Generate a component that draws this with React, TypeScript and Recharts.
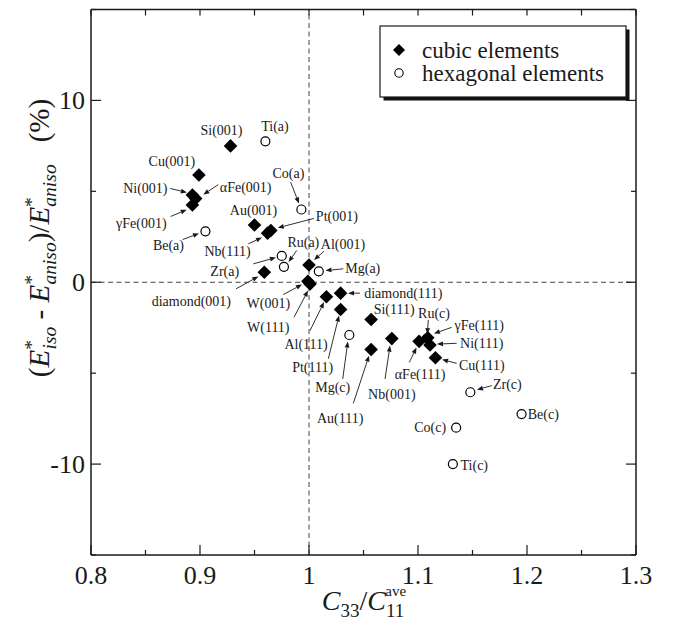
import React from "react";
import { ScatterChart, Scatter, XAxis, YAxis, ReferenceLine } from "recharts";

// cubic elements (filled diamonds)
const cubicNames = [
  "Si(001)", "Cu(001)", "Ni(001)", "αFe(001)", "γFe(001)", "Au(001)", "Pt(001)", "Nb(111)",
  "Al(001)", "diamond(001)", "W(001)", "W(111)", "Al(111)", "diamond(111)", "Pt(111)",
  "Si(111)", "Au(111)", "Nb(001)", "αFe(111)", "γFe(111)", "Ni(111)", "Cu(111)",
];
const cubicX = [
  0.928, 0.899, 0.893, 0.896, 0.893, 0.95, 0.965, 0.962,
  1.0, 0.959, 0.999, 1.001, 1.016, 1.029, 1.029,
  1.057, 1.057, 1.076, 1.101, 1.109, 1.111, 1.116,
];
const cubicY = [
  7.5, 5.9, 4.8, 4.6, 4.25, 3.15, 2.85, 2.7,
  0.95, 0.55, 0.05, -0.1, -0.8, -0.6, -1.5,
  -2.05, -3.7, -3.1, -3.25, -3.05, -3.45, -4.15,
];

// hexagonal elements (open circles)
const hexNames = [
  "Ti(a)", "Co(a)", "Be(a)", "Zr(a)", "Ru(a)", "Mg(a)",
  "Mg(c)", "Ru(c)", "Zr(c)", "Co(c)", "Be(c)", "Ti(c)",
];
const hexX = [0.96, 0.993, 0.905, 0.975, 0.977, 1.009, 1.037, 1.108, 1.148, 1.135, 1.195, 1.132];
const hexY = [7.75, 4.0, 2.8, 1.45, 0.85, 0.6, -2.9, -3.1, -6.05, -8.0, -7.25, -10.0];

const xTicks = [0.8, 0.85, 0.9, 0.95, 1.0, 1.05, 1.1, 1.15, 1.2, 1.25, 1.3];
const yTicks = [-15, -10, -5, 0, 5, 10, 15];

// label placement relative to the marker: [textDx, textDy, arrowTailDx, arrowTailDy, arrowHeadDx, arrowHeadDy]
const labelPlace: Record<string, number[]> = {
  "Si(001)": [-9, -15],
  "Cu(001)": [-27, -13],
  "Ni(001)": [-47, -6.5, -22, -6.5, -5.5, -2.5],
  "αFe(001)": [50, -11, 22.7, -14, 7.7, -4],
  "γFe(001)": [-51, 18.5, -21.7, 11.5, -5.7, 4.8],
  "Au(001)": [-1, -14.5],
  "Pt(001)": [66, -14, 43, -12, 7, -2.6],
  "Nb(111)": [-40, 18, -19.3, 10.7, -5.6, 4.4],
  "Al(001)": [34, -20, 15, -13.7, 5, -5],
  "diamond(001)": [-73, 29, -28.3, 16.6, -6, 4.3],
  "W(001)": [-39.6, 22.5, -24.6, 13.2, -5.9, 3.2],
  "W(111)": [-41.8, 43.2, -16.1, 33.2, -2.1, 6.5],
  "Al(111)": [-20.4, 47.8, -16.4, 33.8, -2.4, 5.3],
  "diamond(111)": [62.7, 0, 19.4, 0, 7.4, 0],
  "Pt(111)": [-28, 57.7, -12.3, 49.3, -1.6, 6],
  "Si(111)": [23, -9.6],
  "Au(111)": [-31, 69, -17.8, 53.8, -2.1, 6.1],
  "Nb(001)": [0, 56, -6.8, 40.3, -1.8, 7],
  "αFe(111)": [1, 33.5, -9.8, 21, -2.6, 6.2],
  "γFe(111)": [51.5, -12, 23.9, -10.4, 6.2, -4.1],
  "Ni(111)": [51.7, -1.7, 26.7, -1.7, 7, -0.9],
  "Cu(111)": [46.3, 7.9, 21.3, 5.6, 6.6, 1.9],
  "Ti(a)": [9.6, -15],
  "Co(a)": [-13, -36, -10.7, -27.3, -2.4, -6],
  "Be(a)": [-37, 14, -22.8, 8.2, -6.5, 2.2],
  "Zr(a)": [-57, 16, -28.5, 8, -5.8, 1.6],
  "Ru(a)": [19.4, -24.6, 12.8, -16.3, 4.6, -4.8],
  "Mg(a)": [44, -2.5, 24.5, -2.5, 6.7, -0.8],
  "Mg(c)": [-16.6, 52.3, -6.6, 44, -1.5, 6.6],
  "Ru(c)": [7.3, -25.3, 1.6, -18.7, 0.6, -4.5],
  "Zr(c)": [37, -7.6, 21.4, -6.6, 6.7, -2.6],
  "Co(c)": [-26, 0],
  "Be(c)": [21.7, 0],
  "Ti(c)": [21.4, 1],
};

const serif = "'Liberation Serif', 'Times New Roman', serif";
const ink = "#1a1a1a";

const Arrow = ({ x1, y1, x2, y2 }: { x1: number; y1: number; x2: number; y2: number }) => {
  const a = Math.atan2(y2 - y1, x2 - x1);
  const L = 6;
  const W = 2.4;
  const bx = x2 - L * Math.cos(a);
  const by = y2 - L * Math.sin(a);
  const px = -Math.sin(a) * W;
  const py = Math.cos(a) * W;
  return (
    <g>
      <line x1={x1} y1={y1} x2={bx} y2={by} stroke={ink} strokeWidth={0.9} />
      <polygon points={`${x2},${y2} ${bx + px},${by + py} ${bx - px},${by - py}`} fill={ink} />
    </g>
  );
};

const PointLabel = ({ cx, cy, name }: { cx: number; cy: number; name: string }) => {
  const p = labelPlace[name];
  if (!p) return null;
  return (
    <g>
      {p.length > 2 && <Arrow x1={cx + p[2]} y1={cy + p[3]} x2={cx + p[4]} y2={cy + p[5]} />}
      <text x={cx + p[0]} y={cy + p[1]} textAnchor="middle" dominantBaseline="central" fontFamily={serif} fontSize={14} fill={ink}>
        {name}
      </text>
    </g>
  );
};

const Diamond = (props: any) => {
  const { cx, cy, payload } = props;
  const r = 6.8;
  return (
    <g>
      <polygon points={`${cx},${cy - r} ${cx + r},${cy} ${cx},${cy + r} ${cx - r},${cy}`} fill="#000" />
      <PointLabel cx={cx} cy={cy} name={payload.name} />
    </g>
  );
};

const Ring = (props: any) => {
  const { cx, cy, payload } = props;
  return (
    <g>
      <circle cx={cx} cy={cy} r={4.5} fill="#fff" stroke="#000" strokeWidth={1.2} />
      <PointLabel cx={cx} cy={cy} name={payload.name} />
    </g>
  );
};

const isMajorX = (v: number) => Math.round(v * 100) % 10 === 0;
const isMajorY = (v: number) => Math.round(v) % 10 === 0 && Math.abs(v) < 15;

const BottomTick = (p: any) => {
  const v = p.payload.value;
  const major = isMajorX(v);
  return (
    <g>
      <line x1={p.x} y1={p.y} x2={p.x} y2={p.y - (major ? 10 : 5)} stroke={ink} strokeWidth={1.2} />
      {major && (
        <text x={p.x} y={p.y + 20} textAnchor="middle" dominantBaseline="central" fontFamily={serif} fontSize={26} fill={ink}>
          {String(v)}
        </text>
      )}
    </g>
  );
};

const TopTick = (p: any) => (
  <line x1={p.x} y1={p.y} x2={p.x} y2={p.y + 6} stroke={ink} strokeWidth={1.2} />
);

const LeftTick = (p: any) => {
  const v = p.payload.value;
  const major = isMajorY(v);
  return (
    <g>
      <line x1={p.x} y1={p.y} x2={p.x + (major ? 10 : 5)} y2={p.y} stroke={ink} strokeWidth={1.2} />
      {major && (
        <text x={p.x - 6} y={p.y} textAnchor="end" dominantBaseline="central" fontFamily={serif} fontSize={26} fill={ink}>
          {String(v)}
        </text>
      )}
    </g>
  );
};

const RightTick = (p: any) => {
  const major = isMajorY(p.payload.value);
  return <line x1={p.x} y1={p.y} x2={p.x - (major ? 10 : 5)} y2={p.y} stroke={ink} strokeWidth={1.2} />;
};

const axisLine = { stroke: ink, strokeWidth: 1.5 };

export default function App() {
  const cubic = cubicNames.map((name, i) => ({ name, x: cubicX[i], y: cubicY[i] }));
  const hex = hexNames.map((name, i) => ({ name, x: hexX[i], y: hexY[i] }));

  return (
    <div style={{ position: "absolute", left: 0, top: 0, width: 673, height: 621, background: "#fff" }}>
      <ScatterChart width={673} height={621} margin={{ top: 8.5, right: 0, bottom: 0, left: 0 }}>
        <XAxis xAxisId="b" type="number" dataKey="x" domain={[0.8, 1.3]} ticks={xTicks} interval={0}
          height={66} tickSize={0} tickMargin={0} tickLine={false} axisLine={axisLine} tick={BottomTick} allowDataOverflow />
        <XAxis xAxisId="t" orientation="top" type="number" dataKey="x" domain={[0.8, 1.3]} ticks={xTicks} interval={0}
          height={1} tickSize={0} tickMargin={0} tickLine={false} axisLine={axisLine} tick={TopTick} allowDataOverflow />
        <YAxis yAxisId="l" type="number" dataKey="y" domain={[-15, 15]} ticks={yTicks} interval={0}
          width={91} tickSize={0} tickMargin={0} tickLine={false} axisLine={axisLine} tick={LeftTick} allowDataOverflow />
        <YAxis yAxisId="r" orientation="right" type="number" dataKey="y" domain={[-15, 15]} ticks={yTicks} interval={0}
          width={37} tickSize={0} tickMargin={0} tickLine={false} axisLine={axisLine} tick={RightTick} allowDataOverflow />
        <ReferenceLine xAxisId="b" yAxisId="l" x={1} stroke="#444" strokeWidth={1} strokeDasharray="5 3.5" />
        <ReferenceLine xAxisId="b" yAxisId="l" y={0} stroke="#444" strokeWidth={1} strokeDasharray="5 3.5" />
        <Scatter xAxisId="b" yAxisId="l" data={hex} shape={Ring} isAnimationActive={false} />
        <Scatter xAxisId="b" yAxisId="l" data={cubic} shape={Diamond} isAnimationActive={false} />
      </ScatterChart>

      <svg width={673} height={621} style={{ position: "absolute", left: 0, top: 0, pointerEvents: "none" }}>
        {/* legend box with drop shadow */}
        <rect x={383.5} y={29.5} width={246} height={71} fill="#111" />
        <rect x={380} y={26} width={246} height={71} fill="#fff" stroke={ink} strokeWidth={1.2} />
        <polygon points="399,44 405,50 399,56 393,50" fill="#000" />
        <circle cx={399} cy={73} r={4.2} fill="#fff" stroke="#000" strokeWidth={1.1} />
        <text x={422} y={50} dominantBaseline="central" fontFamily={serif} fontSize={23} fill={ink}>cubic elements</text>
        <text x={422} y={73} dominantBaseline="central" fontFamily={serif} fontSize={23} fill={ink}>hexagonal elements</text>

        {/* x axis title */}
        <text x={364} y={610} textAnchor="middle" fontFamily={serif} fontSize={28} fill={ink}>
          <tspan fontStyle="italic">C</tspan>
          <tspan fontSize={19} dy={7}>33</tspan>
          <tspan dy={-7}>/</tspan>
          <tspan fontStyle="italic">C</tspan>
          <tspan fontSize={19} dy={7}>11</tspan>
          <tspan fontSize={15} dx={-19} dy={-21}>ave</tspan>
        </text>

        {/* y axis title */}
        <text transform="translate(49,238) rotate(-90)" textAnchor="middle" fontFamily={serif} fontSize={29} fill={ink}>
          <tspan>(</tspan>
          <tspan fontStyle="italic">E</tspan>
          <tspan fontSize={19.5} dy={-11}>*</tspan>
          <tspan fontSize={19.5} fontStyle="italic" dx={-9.5} dy={18}>iso</tspan>
          <tspan dy={-7}> - </tspan>
          <tspan fontStyle="italic">E</tspan>
          <tspan fontSize={19.5} dy={-11}>*</tspan>
          <tspan fontSize={19.5} fontStyle="italic" dx={-9.5} dy={18}>aniso</tspan>
          <tspan dy={-7}>)/</tspan>
          <tspan fontStyle="italic">E</tspan>
          <tspan fontSize={19.5} dy={-11}>*</tspan>
          <tspan fontSize={19.5} fontStyle="italic" dx={-9.5} dy={18}>aniso</tspan>
          <tspan dy={-7} dx={22}>(%)</tspan>
        </text>
      </svg>
    </div>
  );
}
